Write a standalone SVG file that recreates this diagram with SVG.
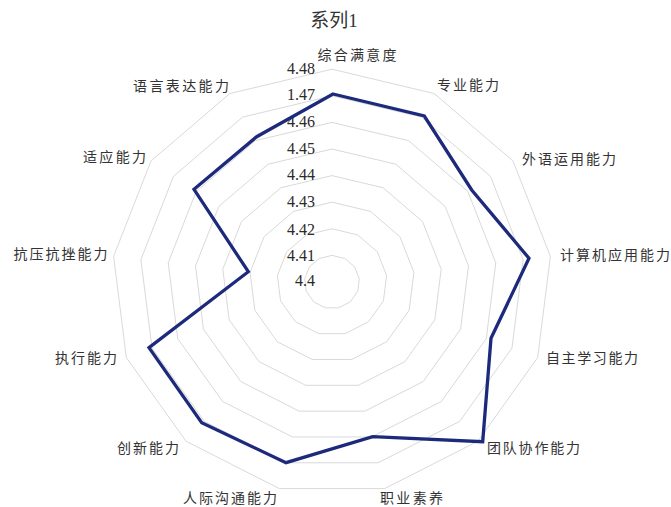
<svg xmlns="http://www.w3.org/2000/svg" xmlns:xlink="http://www.w3.org/1999/xlink" width="671" height="507" viewBox="0 0 671 507">
<style>
.bg{fill:#ffffff}
.ring{fill:none;stroke:#d9d9d9;stroke-width:1}
.cat{font-family:"Noto Sans CJK SC","Noto Sans CJK JP",sans-serif;font-size:14px;fill:#333333}
.tick{font-family:"Liberation Serif",serif;font-size:16px;fill:#2a2a2a;text-anchor:end}
.title{font-family:"Liberation Serif","Noto Sans CJK SC",serif;font-size:19px;fill:#333333;text-anchor:middle}
.data{fill:none;stroke:#1d2a7c;stroke-width:3.3;stroke-linejoin:miter}
</style>
<defs>
<polygon id="unit" points="0,-1 0.4647,-0.8855 0.8230,-0.5681 0.9927,-0.1205 0.9350,0.3546 0.6631,0.7485 0.2393,0.9709 -0.2393,0.9709 -0.6631,0.7485 -0.9350,0.3546 -0.9927,-0.1205 -0.8230,-0.5681 -0.4647,-0.8855" vector-effect="non-scaling-stroke"/>
</defs>
<rect class="bg" x="0" y="0" width="671" height="507"/>
<text class="title" x="334" y="27"><tspan font-family="Noto Sans CJK SC,sans-serif">系列</tspan>1</text>
<g id="grid" class="ring">
<use xlink:href="#unit" transform="translate(332,282) scale(27.5,26.6)"/>
<use xlink:href="#unit" transform="translate(332,282) scale(55,53.2)"/>
<use xlink:href="#unit" transform="translate(332,282) scale(82.5,79.8)"/>
<use xlink:href="#unit" transform="translate(332,282) scale(110,106.4)"/>
<use xlink:href="#unit" transform="translate(332,282) scale(137.5,133)"/>
<use xlink:href="#unit" transform="translate(332,282) scale(165,159.6)"/>
<use xlink:href="#unit" transform="translate(332,282) scale(192.5,186.2)"/>
<use xlink:href="#unit" transform="translate(332,282) scale(220,212.8)"/>
</g>
<g id="ticks">
<text class="tick" x="315" y="73.5">4.48</text>
<text class="tick" x="315" y="100">1.47</text>
<text class="tick" x="315" y="127">4.46</text>
<text class="tick" x="315" y="153.5">4.45</text>
<text class="tick" x="315" y="180">4.44</text>
<text class="tick" x="315" y="207">4.43</text>
<text class="tick" x="315" y="234.5">4.42</text>
<text class="tick" x="315" y="260.5">4.41</text>
<text class="tick" x="315" y="285.5">4.4</text>
</g>
<g id="connectors">
<polygon id="series1" class="data" points="333,94 424.3,116 471.7,190 529,258.3 491,338.3 482.7,441.7 372.7,436.7 286,462.7 201.7,422.7 149,347.7 248.3,271.7 194,189.3 256.7,136.7"/>
</g>
<g id="labels">
<g id="n0"><text class="cat" x="317.5" y="60" textLength="79" lengthAdjust="spacing">综合满意度</text></g>
<g id="n1"><text class="cat" x="437" y="90" textLength="62" lengthAdjust="spacing">专业能力</text></g>
<g id="n2"><text class="cat" x="522" y="163.5" textLength="94" lengthAdjust="spacing">外语运用能力</text></g>
<g id="n3"><text class="cat" x="560" y="260" textLength="110" lengthAdjust="spacing">计算机应用能力</text></g>
<g id="n4"><text class="cat" x="546" y="363" textLength="92" lengthAdjust="spacing">自主学习能力</text></g>
<g id="n5"><text class="cat" x="487" y="453" textLength="93" lengthAdjust="spacing">团队协作能力</text></g>
<g id="n6"><text class="cat" x="380" y="503" textLength="63" lengthAdjust="spacing">职业素养</text></g>
<g id="n7"><text class="cat" x="183" y="502.5" textLength="94" lengthAdjust="spacing">人际沟通能力</text></g>
<g id="n8"><text class="cat" x="117" y="453" textLength="62" lengthAdjust="spacing">创新能力</text></g>
<g id="n9"><text class="cat" x="55" y="363" textLength="62" lengthAdjust="spacing">执行能力</text></g>
<g id="n10"><text class="cat" x="13.5" y="259" textLength="94" lengthAdjust="spacing">抗压抗挫能力</text></g>
<g id="n11"><text class="cat" x="83" y="162" textLength="63" lengthAdjust="spacing">适应能力</text></g>
<g id="n12"><text class="cat" x="133" y="91" textLength="96" lengthAdjust="spacing">语言表达能力</text></g>
</g>
</svg>
